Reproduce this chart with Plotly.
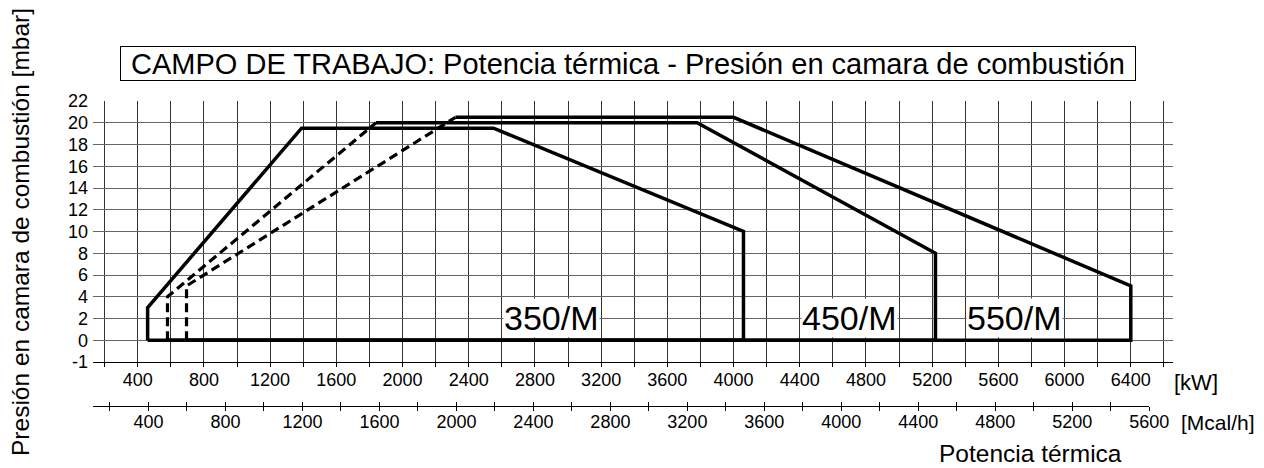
import plotly.graph_objects as go

FONT = "Liberation Sans, Arial, Helvetica, sans-serif"

# ---- data (kW / mbar) ----
KW_350 = [460, 460, 1390, 2550, 4060, 4060, 460]
MBAR_350 = [0, 3, 19.5, 19.5, 10, 0, 0]

KW_450 = [1840, 3780, 5220, 5220, 580]
MBAR_450 = [20, 20, 8, 0, 0]
KW_450_DASH = [580, 580, 1840]
MBAR_450_DASH = [0, 4, 20]

KW_550 = [2320, 4000, 6400, 6400, 695]
MBAR_550 = [20.5, 20.5, 5, 0, 0]
KW_550_DASH = [695, 695, 2320]
MBAR_550_DASH = [0, 5, 20.5]

MODELS = ["350/M", "450/M", "550/M"]
MODEL_KW = [2900, 4700, 5700]
MODEL_MBAR = [2.05, 2.05, 2.05]

KW_TICKS = list(range(200, 6601, 200))
KW_LABELS = [str(v) if v % 400 == 0 and v <= 6400 else "" for v in KW_TICKS]
MCAL_TICKS = list(range(200, 5601, 200))
MCAL_LABELS = [str(v) if v % 400 == 0 else "" for v in MCAL_TICKS]
# bottom row of the original drawing is labelled -1 but drawn one grid cell high
MBAR_TICKS = [-2, 0, 2, 4, 6, 8, 10, 12, 14, 16, 18, 20, 22]
MBAR_LABELS = ["-1", "0", "2", "4", "6", "8", "10", "12", "14", "16", "18", "20", "22"]

KW_TO_MCAL = 0.86
KW_RANGE = [130, 6655]

# ---- layout geometry (page pixels; the page body adds an 8px margin) ----
OFF = 8
W, H = 1264 - OFF, 468 - OFF
PLOT_LEFT, PLOT_RIGHT, PLOT_TOP, PAPER_BOTTOM = 93, 1173, 101, 420
PLOT_BOTTOM = 362
MCAL_LINE = 406
PLOT_W = PLOT_RIGHT - PLOT_LEFT
PAPER_H = PAPER_BOTTOM - PLOT_TOP


def px_x(px):
    return (px - PLOT_LEFT) / PLOT_W


def px_y(py):
    return (PAPER_BOTTOM - py) / PAPER_H


kw_per_px = (KW_RANGE[1] - KW_RANGE[0]) / PLOT_W
mcal_end_kw = MCAL_TICKS[-1] / KW_TO_MCAL
mcal_dom_end = (mcal_end_kw - KW_RANGE[0]) / kw_per_px / PLOT_W

fig = go.Figure()

solid = dict(color="black", width=3.5)
dashed = dict(color="black", width=3.2, dash="9px,5px")

fig.add_trace(go.Scatter(x=KW_350, y=MBAR_350, mode="lines", line=solid))
fig.add_trace(go.Scatter(x=KW_450, y=MBAR_450, mode="lines", line=solid))
fig.add_trace(go.Scatter(x=KW_450_DASH, y=MBAR_450_DASH, mode="lines", line=dashed))
fig.add_trace(go.Scatter(x=KW_550, y=MBAR_550, mode="lines", line=solid))
fig.add_trace(go.Scatter(x=KW_550_DASH, y=MBAR_550_DASH, mode="lines", line=dashed))

# helper traces so the Mcal/h scale gets drawn
fig.add_trace(go.Scatter(x=[None], y=[None], xaxis="x2", yaxis="y2"))
fig.add_trace(go.Scatter(x=[None], y=[None], xaxis="x3", yaxis="y2"))


def note(px, py, text, size, **kw):
    return dict(x=px_x(px), y=px_y(py), xref="paper", yref="paper", text=text,
                showarrow=False, xanchor="center", yanchor="middle",
                font=dict(size=size, color="black", family=FONT), **kw)


annotations = []
for name, kx, my in zip(MODELS, MODEL_KW, MODEL_MBAR):
    annotations.append(dict(
        x=kx, y=my, xref="x", yref="y", text=name, showarrow=False,
        xanchor="center", yanchor="middle",
        font=dict(size=34, color="black", family=FONT),
        bgcolor="white", borderpad=0,
    ))

annotations += [
    note(628, 63.5, "CAMPO DE TRABAJO: Potencia térmica - Presión en camara de combustión",
         29, bordercolor="black", borderwidth=1, borderpad=0, width=1014, height=33),
    note(1196, 382, "[kW]", 22),
    note(1218, 422, "[Mcal/h]", 21),
    note(1030, 453, "Potencia térmica", 24.5),
    note(20, 232, "Presión en camara de combustión [mbar]", 24.5, textangle=-90),
]

fig.update_layout(
    width=W, height=H,
    margin=dict(l=PLOT_LEFT - OFF, r=W - (PLOT_RIGHT - OFF), t=PLOT_TOP - OFF,
                b=H - (PAPER_BOTTOM - OFF), autoexpand=False),
    paper_bgcolor="white", plot_bgcolor="rgba(0,0,0,0)",
    font=dict(family=FONT, size=18, color="black"),
    showlegend=False,
    annotations=annotations,
    xaxis=dict(
        range=KW_RANGE, tickmode="array", tickvals=KW_TICKS, ticktext=KW_LABELS,
        showgrid=True, gridcolor="#333", gridwidth=1, zeroline=False,
        showline=True, linecolor="black", linewidth=1,
        ticks="outside", ticklen=4, tickcolor="black", ticklabelstandoff=-3,
        tickfont=dict(size=18), fixedrange=True,
    ),
    yaxis=dict(
        range=[-2, 22], domain=[px_y(PLOT_BOTTOM), 1],
        tickmode="array", tickvals=MBAR_TICKS, ticktext=MBAR_LABELS,
        showgrid=True, gridcolor="#666", gridwidth=1, zeroline=False,
        showline=False, ticks="", ticklabelstandoff=4,
        tickfont=dict(size=18), fixedrange=True,
    ),
    xaxis2=dict(
        range=[KW_RANGE[0] * KW_TO_MCAL, MCAL_TICKS[-1]], domain=[0, mcal_dom_end],
        anchor="y2", tickmode="array", tickvals=MCAL_TICKS,
        ticktext=[""] * len(MCAL_TICKS),
        showgrid=False, zeroline=False, showline=True, linecolor="black",
        linewidth=1, ticks="inside", ticklen=4, tickcolor="black",
    ),
    xaxis3=dict(
        range=[KW_RANGE[0] * KW_TO_MCAL, MCAL_TICKS[-1]], domain=[0, mcal_dom_end],
        anchor="y2", overlaying="x2", tickmode="array", tickvals=MCAL_TICKS,
        ticktext=MCAL_LABELS, showgrid=False, zeroline=False, showline=False,
        ticks="outside", ticklen=4, tickcolor="black", ticklabelstandoff=-5,
        tickfont=dict(size=18),
    ),
    yaxis2=dict(
        domain=[px_y(MCAL_LINE), px_y(MCAL_LINE) + 0.002], range=[0, 1],
        visible=False, showgrid=False, zeroline=False,
    ),
)

fig.write_html("out.html")
